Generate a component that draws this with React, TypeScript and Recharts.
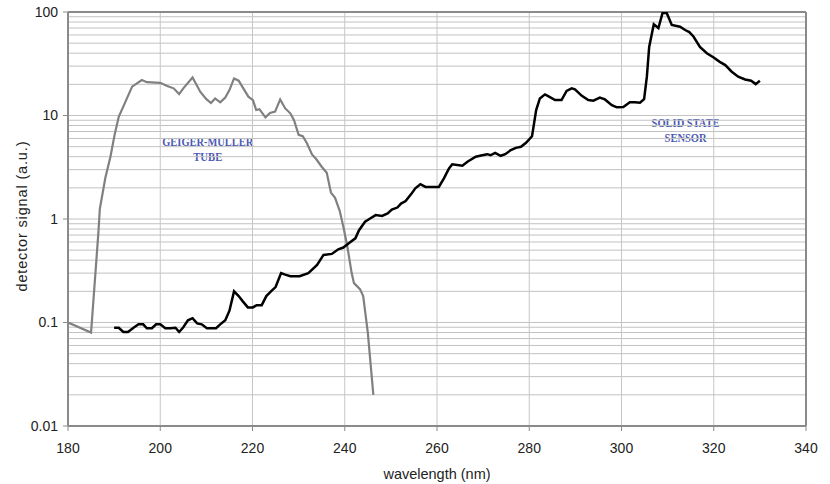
import React from 'react';
import { LineChart, Line, XAxis, YAxis, ReferenceLine, ReferenceArea } from 'recharts';

const xTicks = [180, 200, 220, 240, 260, 280, 300, 320, 340];
const yTicks = [0.01, 0.1, 1, 10, 100];
const yTickLabels = ['0.01', '0.1', '1', '10', '100'];
const xGridLines = [200, 220, 240, 260, 280, 300, 320];
const yGridLines = [
  0.02, 0.03, 0.04, 0.05, 0.06, 0.07, 0.08, 0.09, 0.1,
  0.2, 0.3, 0.4, 0.5, 0.6, 0.7, 0.8, 0.9, 1,
  2, 3, 4, 5, 6, 7, 8, 9, 10,
  20, 30, 40, 50, 60, 70, 80, 90,
];

// Geiger-Muller tube response
const gmWavelength = [
  180, 185, 186.6, 186.9, 188.1, 189.2, 190.1, 191, 193.9, 196, 197.1, 200, 201.5, 202.9,
  204.1, 205, 207, 208.7, 210, 211, 211.9, 213, 214.1, 215, 216, 217, 219.1, 220.1, 220.8,
  221.5, 222.8, 223.8, 224.9, 226, 227.1, 228.2, 229, 230, 230.9, 231.8, 232.9, 233.8, 235,
  236.1, 237, 237.9, 238.9, 239.7, 240.6, 241.5, 242, 243.3, 244, 245, 246.2,
];
const gmSignal = [
  0.1, 0.08, 0.75, 1.25, 2.5, 4, 6.5, 9.7, 19, 22, 21, 20.7, 19.3, 18.3,
  16.1, 18.3, 23.3, 16.9, 14.4, 13.2, 14.6, 13.4, 14.9, 17.6, 22.8, 21.7, 15.2, 14.1, 11.3,
  11.5, 9.6, 10.6, 10.9, 14.3, 11.7, 10.5, 9.0, 6.5, 6.3, 5.4, 4.2, 3.8, 3.2,
  2.8, 1.8, 1.6, 1.2, 0.84, 0.53, 0.3, 0.24, 0.21, 0.18, 0.08, 0.02,
];

// solid state sensor response
const ssWavelength = [
  190, 191, 192, 193, 194.2, 195.3, 196.3, 197.1, 198.2, 199.1, 200, 201.1, 202.2, 203.3,
  204.1, 205, 206, 207, 208, 209, 210.1, 211.2, 212.1, 213, 214.1, 215, 216, 217, 217.9,
  219, 220.1, 220.9, 222, 223, 224, 225, 226.2, 227.1, 228.2, 230.2, 232.1, 234, 235.4,
  237.2, 238.6, 239.7, 240.8, 242.3, 243.1, 244.4, 245.5, 246.7, 248.1, 249.3, 250.2, 251.4,
  252.2, 253.2, 254.4, 255.3, 256.4, 257.5, 260.4, 261.5, 262.6, 263.3, 265.5, 266.6, 268.4,
  269.8, 270.9, 271.6, 272.6, 273.8, 274.8, 276, 277.1, 278.2, 279.3, 280.6, 281.5, 282.3,
  283.4, 284.1, 285.6, 287, 288.1, 289.2, 289.9, 291.4, 292.8, 293.9, 295.3, 296.4, 297.9,
  299, 300.4, 301.8, 302.9, 304, 304.9, 305.5, 306, 307, 308, 308.9, 309.8, 310.9, 312.7,
  313.8, 314.7, 315.6, 317, 318.5, 319.9, 321.3, 322.5, 323.9, 325.3, 326.8, 328.1, 329.1, 330,
];
const ssSignal = [
  0.089, 0.089, 0.081, 0.081, 0.089, 0.096, 0.096, 0.088, 0.088, 0.096, 0.096, 0.088, 0.088, 0.089,
  0.081, 0.09, 0.105, 0.11, 0.098, 0.096, 0.088, 0.088, 0.088, 0.096, 0.105, 0.13, 0.2, 0.18, 0.16,
  0.14, 0.14, 0.147, 0.147, 0.18, 0.2, 0.22, 0.3, 0.29, 0.28, 0.28, 0.3, 0.36, 0.45,
  0.46, 0.51, 0.53, 0.58, 0.65, 0.78, 0.94, 1.01, 1.09, 1.07, 1.13, 1.23, 1.29,
  1.41, 1.49, 1.74, 1.98, 2.17, 2.04, 2.04, 2.47, 3.08, 3.38, 3.27, 3.58, 4.0,
  4.13, 4.23, 4.13, 4.36, 4.08, 4.23, 4.63, 4.87, 4.98, 5.45, 6.3, 11.3, 14.6,
  16.0, 15.4, 14.1, 14.1, 17.3, 18.3, 17.9, 15.5, 14.1, 13.9, 14.9, 14.3, 12.6,
  12.0, 12.1, 13.4, 13.4, 13.3, 14.4, 23.7, 46, 76, 70, 98, 98, 75, 72,
  67, 64, 58, 46, 40, 36.5, 33, 30.7, 26.5, 23.7, 22.3, 21.7, 20.1, 21.7,
];

const gmData = gmWavelength.map((x, i) => ({ x, y: gmSignal[i] }));
const ssData = ssWavelength.map((x, i) => ({ x, y: ssSignal[i] }));

const font = 'Liberation Sans, Arial, sans-serif';

// white note box with two lines of serif text; baselines/widths in px
const NoteBox = (lines: string[], baselines: number[], widths: number[]) => (props: any) => {
  const { x, y, width, height } = props;
  const cx = x + width / 2;
  return (
    <g>
      <rect x={x} y={y} width={width} height={height} fill="#fff" />
      {lines.map((t, i) => (
        <text
          key={t}
          x={cx}
          y={y + baselines[i]}
          textAnchor="middle"
          fontFamily="Liberation Serif, serif"
          fontWeight="bold"
          fontSize={13.5}
          textLength={widths[i]}
          lengthAdjust="spacingAndGlyphs"
          fill="#4d5ab4"
        >
          {t}
        </text>
      ))}
    </g>
  );
};

const YTitle = (props: any) => {
  const { viewBox } = props;
  const cx = 22;
  const cy = viewBox.y + viewBox.height / 2 - 2.5;
  return (
    <text
      x={cx}
      y={cy}
      transform={`rotate(-90 ${cx} ${cy})`}
      textAnchor="middle"
      dominantBaseline="central"
      fontFamily={font}
      fontSize={14.5}
      textLength={150}
      lengthAdjust="spacing"
      fill="#222"
    >
      detector signal (a.u.)
    </text>
  );
};

const XTitle = (props: any) => {
  const { viewBox } = props;
  const cx = viewBox.x + viewBox.width / 2;
  return (
    <text x={cx} y={474} textAnchor="middle" dominantBaseline="central" fontFamily={font} fontSize={14.5} fill="#222">
      wavelength (nm)
    </text>
  );
};

export default function App() {
  return (
    <div style={{ position: 'absolute', left: 0, top: 0, background: '#fff' }}>
      <LineChart width={830} height={484} margin={{ top: 12, right: 24, bottom: 0, left: 18 }}>
        <XAxis
          type="number"
          dataKey="x"
          domain={[180, 340]}
          ticks={xTicks}
          allowDataOverflow
          height={58}
          tickSize={5}
          tickMargin={12}
          axisLine={{ stroke: '#8a8a8a', strokeWidth: 2 }}
          tickLine={{ stroke: '#8a8a8a' }}
          tick={{ fontFamily: font, fontSize: 14, fill: '#222' }}
          label={<XTitle />}
        />
        <YAxis
          type="number"
          dataKey="y"
          scale="log"
          domain={[0.01, 100]}
          ticks={yTicks}
          allowDataOverflow
          width={50}
          tickSize={5}
          tickMargin={5}
          tickFormatter={(v: number) => yTickLabels[yTicks.indexOf(v)] ?? String(v)}
          axisLine={{ stroke: '#8a8a8a', strokeWidth: 2 }}
          tickLine={{ stroke: '#8a8a8a' }}
          tick={{ fontFamily: font, fontSize: 14, fill: '#222' }}
          label={<YTitle />}
        />
        {yGridLines.map((v) => (
          <ReferenceLine key={'h' + v} y={v} stroke="#c2c2c2" strokeWidth={1} />
        ))}
        {xGridLines.map((v) => (
          <ReferenceLine key={'v' + v} x={v} stroke="#c6c6c6" strokeWidth={1} />
        ))}
        <ReferenceArea
          x1={194.6}
          x2={226}
          y1={2.48}
          y2={7.55}
          shape={NoteBox(['GEIGER-MULLER', 'TUBE'], [18, 33], [91, 29])}
        />
        <ReferenceArea
          x1={302.4}
          x2={325.4}
          y1={4.14}
          y2={15.1}
          shape={NoteBox(['SOLID STATE', 'SENSOR'], [30, 45.5], [68, 42])}
        />
        <ReferenceLine y={100} stroke="#8a8a8a" strokeWidth={2} />
        <ReferenceLine x={340} stroke="#8a8a8a" strokeWidth={2} />
        <Line
          data={gmData}
          dataKey="y"
          type="linear"
          stroke="#808080"
          strokeWidth={2.2}
          dot={false}
          isAnimationActive={false}
        />
        <Line
          data={ssData}
          dataKey="y"
          type="linear"
          stroke="#000"
          strokeWidth={2.5}
          dot={false}
          isAnimationActive={false}
        />
      </LineChart>
    </div>
  );
}
